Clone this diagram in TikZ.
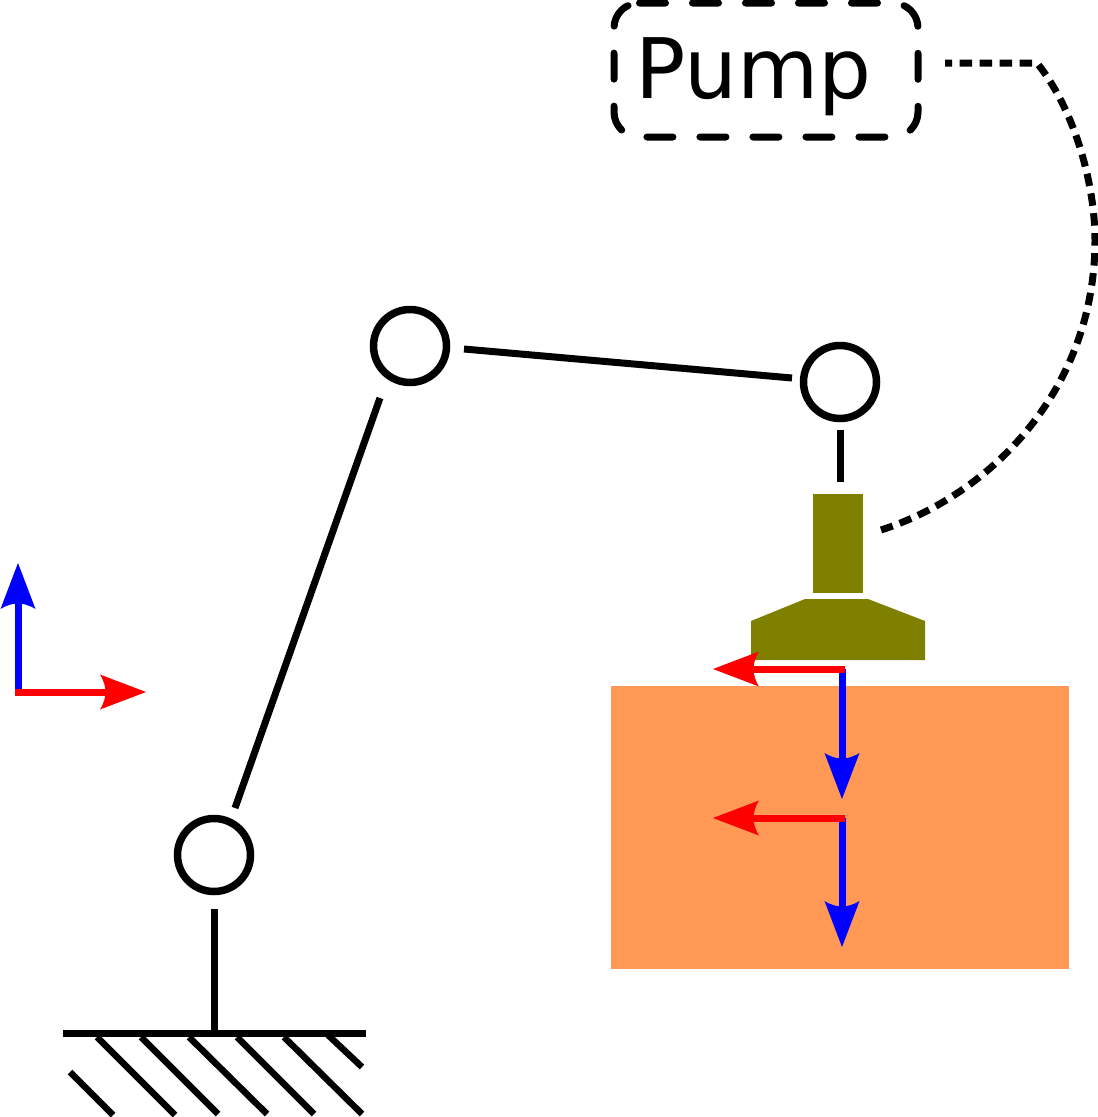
\documentclass[tikz,border=0pt]{standalone}
\usepackage{fontspec}
\setmainfont{DejaVu Sans}
\usetikzlibrary{arrows.meta,calc}
\definecolor{toololive}{HTML}{808000}
\definecolor{partorange}{HTML}{FF9955}
\pgfdeclarearrow{
  name=Barb,
  setup code={
    \pgfarrowssettipend{0pt}
    \pgfarrowssetlineend{-38pt}
    \pgfarrowssetbackend{-46pt}
    \pgfarrowshullpoint{0pt}{0pt}
    \pgfarrowshullpoint{-46pt}{18pt}
    \pgfarrowshullpoint{-46pt}{-18pt}
  },
  drawing code={
    \pgfsetlinewidth{0pt}
    \pgfpathmoveto{\pgfqpoint{0pt}{0pt}}
    \pgfpathlineto{\pgfqpoint{-46pt}{17.5pt}}
    \pgfpathcurveto{\pgfqpoint{-42pt}{11pt}}{\pgfqpoint{-40.5pt}{5pt}}{\pgfqpoint{-40.5pt}{0pt}}
    \pgfpathcurveto{\pgfqpoint{-40.5pt}{-5pt}}{\pgfqpoint{-42pt}{-11pt}}{\pgfqpoint{-46pt}{-17.5pt}}
    \pgfpathclose
    \pgfusepathqfill
  }
}
\tikzset{
  joint/.style={circle,draw=black,line width=7.5pt,minimum size=73pt,inner sep=0pt,fill=white},
  link/.style={draw=black,line width=7pt},
  hatchline/.style={draw=black,line width=6.5pt},
  axisx/.style={draw=red,line width=7pt,-{Barb}},
  axisz/.style={draw=blue,line width=7pt,-{Barb}},
  pumpbox/.style={draw=black,line width=7pt,line cap=round,rounded corners=25pt,dash pattern=on 26pt off 27pt},
  hose/.style={draw=black,line width=7pt,dash pattern=on 12.5pt off 7.5pt,dash phase=5.5pt},
  toolpart/.style={fill=toololive,draw=none},
  workpiece/.style={fill=partorange,draw=none}
}
\begin{document}
\begin{tikzpicture}[x=1pt,y=-1pt]
\useasboundingbox (0,0) rectangle (1098,1117);
% workpiece and tool
\fill[workpiece] (611,686) rectangle (1069,969);
\fill[toolpart] (813,494) rectangle (863,593);
\fill[toolpart] (805,599) -- (868,599) -- (925,621) -- (925,660) -- (751,660) -- (751,621) -- cycle;
% joints
\node[joint] (j1) at (214,855) {};
\node[joint] (j2) at (410,346) {};
\node[joint] (j3) at (840,382) {};
\coordinate (flange) at (840,482);
\coordinate (basetop) at (214,909);
\coordinate (groundjoin) at (214,1033);
\coordinate (l1a) at (235,808);
\coordinate (l1b) at (380,398);
\coordinate (l2a) at (464,349);
\coordinate (l2b) at (792,378);
\coordinate (l3a) at (840,430);
\draw[link] (basetop) -- (groundjoin);
\draw[link] (l1a) -- (l1b);
\draw[link] (l2a) -- (l2b);
\draw[link] (l3a) -- (flange);
% ground
\coordinate (gl) at (63,1033.5);
\coordinate (gr) at (366,1033.5);
\draw[link] (gl) -- (gr);
\draw[hatchline] (70,1072) -- (113,1115);
\draw[hatchline] (97,1037) -- (175,1115);
\draw[hatchline] (141,1037) -- (218,1114);
\draw[hatchline] (189,1037) -- (267,1114);
\draw[hatchline] (237,1037) -- (314,1114);
\draw[hatchline] (284,1037) -- (362,1114);
\draw[hatchline] (328,1035) -- (362,1067);
% base frame
\coordinate (b0) at (18,692);
\coordinate (bx) at (146,692);
\coordinate (bz) at (18,563);
\draw[axisz] (b0) -- (bz);
\draw[axisx] (15,692) -- (bx);
% tool frame
\coordinate (t0) at (842,669);
\coordinate (tx) at (713,669);
\coordinate (tz) at (842,799);
\draw[axisz] (t0) -- (tz);
\draw[axisx] (845,669) -- (tx);
% part frame
\coordinate (p0) at (842,818);
\coordinate (px) at (713,818);
\coordinate (pz) at (842,947);
\draw[axisz] (p0) -- (pz);
\draw[axisx] (845,818) -- (px);
% pump
\node[minimum width=304pt,minimum height=134pt,inner sep=0pt,outer sep=0pt] (pump) at (766,70) {};
\coordinate (pumpstart) at ($(pump.north west)+(25.5,0)$);
\draw[pumpbox] (pumpstart) -- (pump.north east) -- (pump.south east) -- (pump.south west) -- (pump.north west) -- (pumpstart);
\node[anchor=base west,inner sep=0pt,font=\fontsize{83.5}{84}\selectfont] (pumplabel) at (635,98) {Pump};
\coordinate (hosestart) at (945,63);
\coordinate (hosebend) at (1037,63);
\coordinate (hoseend) at (881,530);
\draw[hose] (hosestart) -- (hosebend) .. controls (1075,110) and (1095,185) .. (1095,240) .. controls (1095,390) and (990,495) .. (hoseend);
\end{tikzpicture}
\end{document}
